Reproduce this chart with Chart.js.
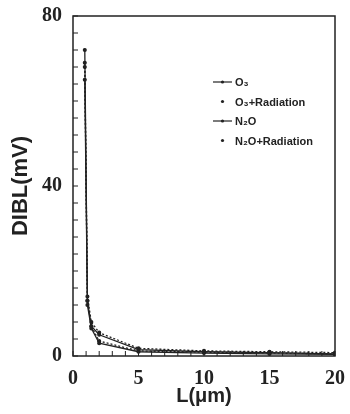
<!DOCTYPE html>
<html>
<head>
<meta charset="utf-8">
<script src="https://cdn.jsdelivr.net/npm/chart.js@4.4.1/dist/chart.umd.min.js"></script>
<style>
  html, body { margin: 0; padding: 0; background: #fff; }
  #wrap { width: 350px; height: 414px; position: relative; }
</style>
</head>
<body>
<div id="wrap"><canvas id="dibl"></canvas></div>
<script>
// channel length (um) and DIBL (mV)
const lengths = [0.9, 1.1, 1.4, 2, 5, 10, 15, 20];
const o3 = [72, 13, 7, 5, 1.5, 1, 0.8, 0.5];
const o3Rad = [69, 14, 8, 5.5, 1.8, 1.2, 1, 0.8];
const n2o = [65, 12, 6.5, 3, 1, 0.7, 0.5, 0.4];
const n2oRad = [68, 13, 7, 3.5, 1.2, 0.9, 0.7, 0.5];

const seriesNames = ["O\u2083", "O\u2083+Radiation", "N\u2082O", "N\u2082O+Radiation"];
const xLabels = [0, 5, 10, 15, 20];
const yLabels = [0, 40, 80];

const toPts = (vals) => vals.map((v, i) => ({ x: lengths[i], y: v }));

// ticks pointing into the plot + frame around it
const frameTicks = {
  id: "frameTicks",
  afterDraw(chart) {
    const { ctx, chartArea: a, scales } = chart;
    ctx.save();
    ctx.strokeStyle = "#222";
    ctx.lineWidth = 1.5;
    ctx.strokeRect(a.left, a.top, a.right - a.left, a.bottom - a.top);
    ctx.lineWidth = 1;
    scales.x.ticks.forEach((t) => {
      const px = scales.x.getPixelForValue(t.value);
      ctx.beginPath();
      ctx.moveTo(px, a.bottom);
      ctx.lineTo(px, a.bottom - 5);
      ctx.stroke();
    });
    scales.y.ticks.forEach((t) => {
      const py = scales.y.getPixelForValue(t.value);
      ctx.beginPath();
      ctx.moveTo(a.left, py);
      ctx.lineTo(a.left + 5, py);
      ctx.stroke();
    });
    ctx.restore();
  }
};

// legend drawn inside the plot, top right
const insideLegend = {
  id: "insideLegend",
  afterDraw(chart) {
    const { ctx } = chart;
    ctx.save();
    ctx.font = "bold 11px 'Liberation Sans', Arial, sans-serif";
    ctx.fillStyle = "#222";
    ctx.textBaseline = "middle";
    chart.data.datasets.forEach((ds, i) => {
      const y = 82 + i * 19.5;
      const x0 = 213, x1 = 232;
      ctx.strokeStyle = "#222";
      ctx.lineWidth = 1.2;
      if (!ds.borderDash) {
        ctx.beginPath();
        ctx.moveTo(x0, y);
        ctx.lineTo(x1, y);
        ctx.stroke();
      }
      ctx.beginPath();
      ctx.arc((x0 + x1) / 2, y, 1.6, 0, Math.PI * 2);
      ctx.fill();
      ctx.fillText(ds.label, 235, y + 1);
    });
    ctx.restore();
  }
};

const common = {
  borderColor: "#222",
  backgroundColor: "#222",
  borderWidth: 1.3,
  pointRadius: 1.4,
  pointHoverRadius: 1.4,
  tension: 0,
  fill: false
};

new Chart(document.getElementById("dibl"), {
  type: "line",
  data: {
    datasets: [
      { ...common, label: seriesNames[0], data: toPts(o3) },
      { ...common, label: seriesNames[1], data: toPts(o3Rad), borderDash: [2, 2] },
      { ...common, label: seriesNames[2], data: toPts(n2o) },
      { ...common, label: seriesNames[3], data: toPts(n2oRad), borderDash: [2, 2] }
    ]
  },
  options: {
    responsive: true,
    maintainAspectRatio: false,
    animation: false,
    layout: { padding: { top: 16, right: 15, left: 0, bottom: 0 } },
    plugins: { legend: { display: false }, tooltip: { enabled: false } },
    scales: {
      x: {
        type: "linear",
        min: 0,
        max: 20,
        border: { display: false },
        grid: { display: false },
        afterFit: (s) => { s.height = 58; },
        ticks: {
          stepSize: 1,
          autoSkip: false,
          maxRotation: 0,
          padding: 3,
          color: "#222",
          font: { family: "'Liberation Serif', serif", size: 20, weight: "bold" },
          callback: (v) => (xLabels.includes(v) ? v : "")
        },
        title: {
          display: true,
          text: "L(\u03bcm)",
          color: "#222",
          padding: { top: 0, bottom: 6 },
          font: { family: "'Liberation Sans', Arial, sans-serif", size: 20, weight: "bold" }
        }
      },
      y: {
        min: 0,
        max: 80,
        border: { display: false },
        grid: { display: false },
        afterFit: (s) => { s.width = 73; },
        ticks: {
          stepSize: 4,
          autoSkip: false,
          padding: 3,
          color: "#222",
          font: { family: "'Liberation Serif', serif", size: 20, weight: "bold" },
          callback: (v) => (yLabels.includes(v) ? v : "")
        },
        title: {
          display: true,
          text: "DIBL(mV)",
          color: "#222",
          padding: { top: 8, bottom: 0 },
          font: { family: "'Liberation Sans', Arial, sans-serif", size: 22, weight: "bold" }
        }
      }
    }
  },
  plugins: [frameTicks, insideLegend]
});
</script>
</body>
</html>
